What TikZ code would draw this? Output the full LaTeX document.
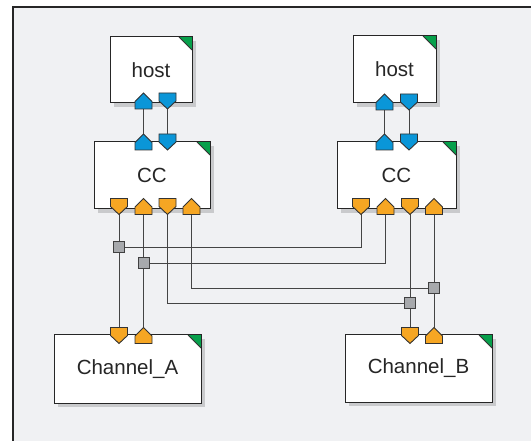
\documentclass[tikz,border=0pt]{standalone}
\usepackage{fontspec}
\setmainfont{Liberation Sans}
\usetikzlibrary{shadows}

\definecolor{panelgray}{HTML}{F0F1F3}
\definecolor{shadowgray}{HTML}{C9CACC}
\definecolor{portblue}{HTML}{0A96D8}
\definecolor{portorange}{HTML}{F6A623}
\definecolor{cornergreen}{HTML}{07A04B}
\definecolor{junctiongray}{HTML}{A7A9AC}
\definecolor{wiregray}{HTML}{444444}

\begin{document}
\begin{tikzpicture}[
    x=1pt, y=-1pt,
    every node/.style={font=\fontsize{20.5}{24}\selectfont, text=black!85, align=center},
    block/.style={rectangle, draw=black!85, line width=1pt, fill=white, inner sep=0pt,
        drop shadow={shadow xshift=4pt, shadow yshift=-4pt, fill=shadowgray, opacity=1},
        path picture={
            \fill[cornergreen] (path picture bounding box.north east) -- ++(-13pt,0pt) -- ++(13pt,-13pt) -- cycle;
            \draw[black!80, line width=0.8pt] (path picture bounding box.north east) ++(-13pt,0pt) -- ++(13pt,-13pt);
        }},
    wire/.style={draw=wiregray, line width=1pt},
    junction/.style={rectangle, draw=black!75, line width=1pt, fill=junctiongray, minimum size=11pt, inner sep=0pt},
    upport/.pic={\path[pic actions, draw=black!80, line width=0.9pt] (-8.5,8) -- (8.5,8) -- (8.5,0.5) -- (0,-8) -- (-8.5,0.5) -- cycle;},
    downport/.pic={\path[pic actions, draw=black!80, line width=0.9pt] (-8.5,-8) -- (8.5,-8) -- (8.5,0) -- (0,8) -- (-8.5,0) -- cycle;}
]
\useasboundingbox (0,0) rectangle (531,441);
\clip (0,0) rectangle (531,441);
\draw[fill=panelgray, line width=1.2pt, draw=black!85] (13,7) rectangle (560,470);

% blocks
\node [block, minimum width=82pt, minimum height=66pt] (hostA) at (151,70) {host};
\node [block, minimum width=83pt, minimum height=67pt] (hostB) at (394.5,69.5) {host};
\node [block, minimum width=116pt, minimum height=67pt] (ccA) at (152,175.5) {CC};
\node [block, minimum width=119pt, minimum height=67pt] (ccB) at (396.5,175.5) {CC};
\node [block, minimum width=147pt, minimum height=68pt] (chA) at (127.5,369) {Channel\_A};
\node [block, minimum width=147pt, minimum height=67pt] (chB) at (418.5,368.5) {Channel\_B};

% port positions
\coordinate (hostAup) at (143.5,101);
\coordinate (hostAdn) at (167.5,101);
\coordinate (hostBup) at (384.5,102);
\coordinate (hostBdn) at (409,102);
\coordinate (ccAup) at (143.5,142);
\coordinate (ccAdn) at (167.5,142);
\coordinate (ccBup) at (384.5,142);
\coordinate (ccBdn) at (409,142);
\coordinate (ccAo1) at (119,206.5);
\coordinate (ccAi1) at (143.5,206.5);
\coordinate (ccAo2) at (167.5,206.5);
\coordinate (ccAi2) at (191.5,206.5);
\coordinate (ccBo1) at (361,206.5);
\coordinate (ccBi1) at (385.5,206.5);
\coordinate (ccBo2) at (410,206.5);
\coordinate (ccBi2) at (434,206.5);
\coordinate (chAdn) at (119,335.5);
\coordinate (chAup) at (143.5,335.5);
\coordinate (chBdn) at (410,335.5);
\coordinate (chBup) at (434,335.5);

% junctions
\node [junction] (jA1) at (119,247.5) {};
\node [junction] (jA2) at (143.5,263.5) {};
\node [junction] (jB2) at (434,288.5) {};
\node [junction] (jB1) at (410,303.5) {};

% wires
\draw [wire] (hostAup) -- (ccAup);
\draw [wire] (hostAdn) -- (ccAdn);
\draw [wire] (hostBup) -- (ccBup);
\draw [wire] (hostBdn) -- (ccBdn);
\draw [wire] (ccAo1) -- (jA1) -- (chAdn);
\draw [wire] (ccAi1) -- (jA2) -- (chAup);
\draw [wire] (ccBo2) -- (jB1) -- (chBdn);
\draw [wire] (ccBi2) -- (jB2) -- (chBup);
\draw [wire] (ccBo1) |- (jA1);
\draw [wire] (ccBi1) |- (jA2);
\draw [wire] (ccAi2) |- (jB2);
\draw [wire] (ccAo2) |- (jB1);

% ports
\pic [fill=portblue] at (hostAup) {upport};
\pic [fill=portblue] at (hostAdn) {downport};
\pic [fill=portblue] at (hostBup) {upport};
\pic [fill=portblue] at (hostBdn) {downport};
\pic [fill=portblue] at (ccAup) {upport};
\pic [fill=portblue] at (ccAdn) {downport};
\pic [fill=portblue] at (ccBup) {upport};
\pic [fill=portblue] at (ccBdn) {downport};
\pic [fill=portorange] at (ccAo1) {downport};
\pic [fill=portorange] at (ccAi1) {upport};
\pic [fill=portorange] at (ccAo2) {downport};
\pic [fill=portorange] at (ccAi2) {upport};
\pic [fill=portorange] at (ccBo1) {downport};
\pic [fill=portorange] at (ccBi1) {upport};
\pic [fill=portorange] at (ccBo2) {downport};
\pic [fill=portorange] at (ccBi2) {upport};
\pic [fill=portorange] at (chAdn) {downport};
\pic [fill=portorange] at (chAup) {upport};
\pic [fill=portorange] at (chBdn) {downport};
\pic [fill=portorange] at (chBup) {upport};
\end{tikzpicture}
\end{document}
